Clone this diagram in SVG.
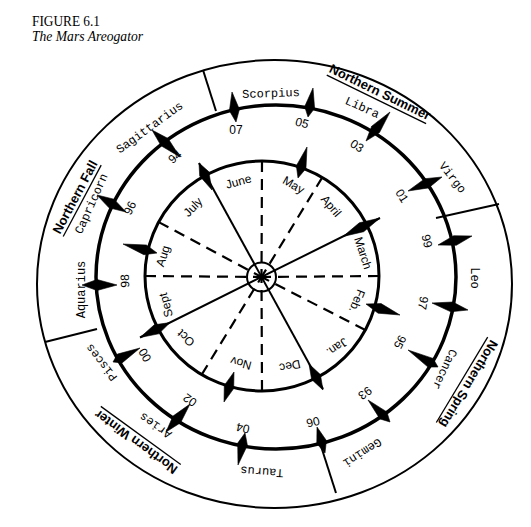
<svg xmlns="http://www.w3.org/2000/svg" width="531" height="527" viewBox="0 0 531 527">
<style>
.ring{fill:none;stroke:#000}
.ln{stroke:#000;stroke-width:2;fill:none}
.dash{stroke:#000;stroke-width:2.2;stroke-dasharray:11 7;fill:none}
.kite{fill:#000;stroke:#000;stroke-width:0.6;stroke-linejoin:round}
.yr{font-family:"Liberation Sans",Arial,sans-serif;font-size:12px;text-anchor:middle;dominant-baseline:central}
.mon{font-family:"Liberation Sans",Arial,sans-serif;font-size:12px;text-anchor:middle;dominant-baseline:central}
.zod{font-family:"Liberation Mono","Courier New",monospace;font-size:12px;text-anchor:middle;dominant-baseline:central}
.season{font-family:"Liberation Sans",Arial,sans-serif;font-size:13px;font-weight:bold;text-anchor:middle;dominant-baseline:central;text-decoration:underline}
.title{font-family:"Liberation Serif","Times New Roman",serif;font-size:14px}
</style>
<rect width="531" height="527" fill="#fff"/>
<g id="title">
<text class="title" x="32" y="26" textLength="68" lengthAdjust="spacingAndGlyphs">FIGURE 6.1</text>
<text class="title" x="32" y="41" font-style="italic" textLength="111" lengthAdjust="spacingAndGlyphs">The Mars Areogator</text>
</g>
<g id="orbits">
<ellipse class="ring" cx="274.5" cy="284" rx="237.5" ry="224" stroke-width="2"/>
<ellipse class="ring" cx="276" cy="277" rx="180" ry="172" stroke-width="3.5"/>
<ellipse class="ring" cx="262" cy="276" rx="117" ry="115" stroke-width="3"/>
<circle id="sun" class="ring" cx="261.5" cy="277" r="14.5" stroke-width="2"/>
</g>
<g id="connectors">
<line class="ln" x1="203" y1="70" x2="216" y2="111"/>
<line class="ln" x1="436" y1="218" x2="499" y2="204"/>
<line class="ln" x1="97" y1="329" x2="45" y2="342"/>
<line class="ln" x1="320" y1="443" x2="336" y2="493"/>
<line class="ln" x1="199" y1="163" x2="323" y2="389"/>
<line class="ln" x1="380" y1="218" x2="140" y2="337.5"/>
<line class="dash" x1="145" y1="276" x2="261.5" y2="277"/>
<line class="dash" x1="379" y1="276" x2="261.5" y2="277"/>
<line class="dash" x1="262" y1="161" x2="261.5" y2="277"/>
<line class="dash" x1="262" y1="391" x2="261.5" y2="277"/>
<line class="dash" x1="322.3" y1="177.4" x2="261.5" y2="277"/>
<line class="dash" x1="201.7" y1="374.6" x2="261.5" y2="277"/>
<line class="dash" x1="158.7" y1="222.1" x2="261.5" y2="277"/>
<line class="dash" x1="365.3" y1="329.9" x2="261.5" y2="277"/>
</g>
<g id="mars-markers">
<polygon class="kite" points="232,92 239.4,109.3 236,122 229.4,110.7"/>
<polygon class="kite" points="313,88 314.6,108.3 308,117 304.7,106.6"/>
<polygon class="kite" points="390,112 379.5,132.6 366,141 371.7,126.2"/>
<polygon class="kite" points="442,177 428.6,187.9 408,191 424.8,178.7"/>
<polygon class="kite" points="472,236 456.3,245.3 438,245 453.7,235.7"/>
<polygon class="kite" points="432,303 450.8,311.8 468,310 452.8,302"/>
<polygon class="kite" points="408,350 428,367.1 438,367 433,358.4"/>
<polygon class="kite" points="368,400 379.9,418.9 390,422 386.9,411.9"/>
<polygon class="kite" points="317,427 316.8,443.6 325,453 326.4,440.6"/>
<polygon class="kite" points="245,433 237.7,443.1 238,465 247.4,445.3"/>
<polygon class="kite" points="190,404 173,416.1 166,432 180.6,422.7"/>
<polygon class="kite" points="140,348 117.45,354.1 113,362 122.05,362.9"/>
<polygon class="kite" points="117,285 97,279.5 82,285 97,290.5"/>
<polygon class="kite" points="126,212 114,199.2 97,195 109,207.8"/>
<polygon class="kite" points="152,130 161.1,145.75 180,157 168.1,138.55"/>
</g>
<g id="earth-markers">
<polygon class="kite" points="199,163 199.7,176 212,190 208.7,171.6"/>
<polygon class="kite" points="307,147 296.35,165.75 298,178 305.95,168.55"/>
<polygon class="kite" points="380,218 359.3,222.8 343,236.5 363.7,231.7"/>
<polygon class="kite" points="366,304 378.1,313.2 400,315 381.1,303.6"/>
<polygon class="kite" points="309,364 311.6,379.4 323,390 320.4,374.6"/>
<polygon class="kite" points="234,372 224.3,385.4 224,402 233.7,388.6"/>
<polygon class="kite" points="170,322.6 154.3,324.8 140,337.5 158.7,333.8"/>
<polygon class="kite" points="123,244 143.8,254.7 157,253 146.4,245"/>
</g>
<g id="years">
<text class="yr" transform="translate(236,130) rotate(0)">07</text>
<text class="yr" transform="translate(302,123) rotate(15)">05</text>
<text class="yr" transform="translate(357,146) rotate(33)">03</text>
<text class="yr" transform="translate(402,196) rotate(58)">01</text>
<text class="yr" transform="translate(427,241) rotate(77)">99</text>
<text class="yr" transform="translate(423,303) rotate(100)">97</text>
<text class="yr" transform="translate(400,342) rotate(118)">95</text>
<text class="yr" transform="translate(365,393) rotate(143)">93</text>
<text class="yr" transform="translate(313,422) rotate(166)">06</text>
<text class="yr" transform="translate(243,428) rotate(192)">04</text>
<text class="yr" transform="translate(190,400) rotate(215)">02</text>
<text class="yr" transform="translate(145,355) rotate(239)">00</text>
<text class="yr" transform="translate(125,281) rotate(268)">98</text>
<text class="yr" transform="translate(130,208) rotate(295)">96</text>
<text class="yr" transform="translate(175,157) rotate(320)">94</text>
</g>
<g id="zodiac">
<text class="zod" transform="translate(271,94) rotate(-2)">Scorpius</text>
<text class="zod" transform="translate(362,108) rotate(24)">Libra</text>
<text class="zod" transform="translate(452,178) rotate(52)">Virgo</text>
<text class="zod" transform="translate(473.5,278) rotate(90)">Leo</text>
<text class="zod" transform="translate(444,369) rotate(115)">Cancer</text>
<text class="zod" transform="translate(362,452) rotate(147)">Gemini</text>
<text class="zod" transform="translate(262,471) rotate(184)">Taurus</text>
<text class="zod" transform="translate(156,425) rotate(215)">Aries</text>
<text class="zod" transform="translate(102,362) rotate(232)">Pisces</text>
<text class="zod" transform="translate(81.5,289.5) rotate(-90)">Aquarius</text>
<text class="zod" transform="translate(92,204) rotate(-66)">Capricorn</text>
<text class="zod" transform="translate(150,128) rotate(-36)">Sagittarius</text>
</g>
<g id="months">
<text class="mon" transform="translate(238.5,181.5) rotate(-15)">June</text>
<text class="mon" transform="translate(293.5,185) rotate(30)">May</text>
<text class="mon" transform="translate(331,206) rotate(50)">April</text>
<text class="mon" transform="translate(363,253) rotate(72)">March</text>
<text class="mon" transform="translate(357,301) rotate(112)">Feb.</text>
<text class="mon" transform="translate(337,347) rotate(145)">Jan.</text>
<text class="mon" transform="translate(290,366) rotate(168)">Dec</text>
<text class="mon" transform="translate(241,363) rotate(195)">Nov</text>
<text class="mon" transform="translate(186,338) rotate(222)">Oct</text>
<text class="mon" transform="translate(166,305) rotate(255)">Sept</text>
<text class="mon" transform="translate(163,256) rotate(-72)">Aug</text>
<text class="mon" transform="translate(193,207) rotate(-46)">July</text>
</g>
<g id="seasons">
<text class="season" transform="translate(380,92) rotate(26)">Northern Summer</text>
<text class="season" transform="translate(469,384) rotate(121)">Northern Spring</text>
<text class="season" transform="translate(136,442) rotate(216)">Northern Winter</text>
<text class="season" transform="translate(75,197) rotate(-62)">Northern Fall</text>
</g>
</svg>
